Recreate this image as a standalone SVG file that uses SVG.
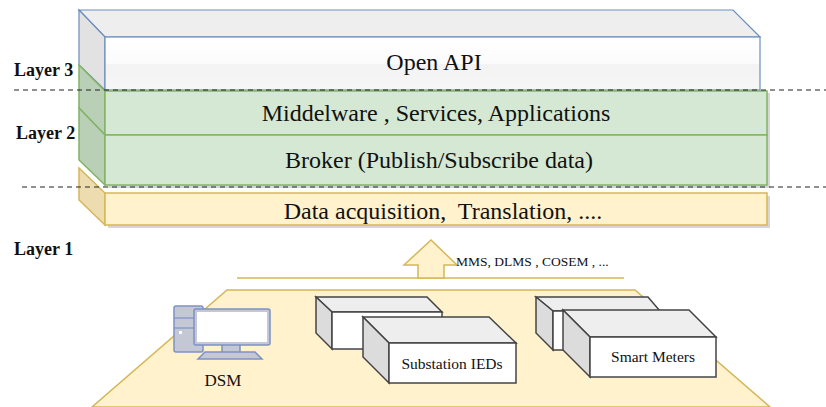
<svg xmlns="http://www.w3.org/2000/svg" width="826" height="407" viewBox="0 0 826 407">
<defs>
<linearGradient id="gApi" x1="0" y1="0" x2="0" y2="1">
<stop offset="0" stop-color="#ffffff"/>
<stop offset="0.5" stop-color="#fbfbfb"/>
<stop offset="0.52" stop-color="#f3f3f3"/>
<stop offset="1" stop-color="#f6f6f6"/>
</linearGradient>
</defs>
<style>
.t{font-family:"Liberation Serif","Times New Roman",serif;fill:#111;}
.lbl{font-family:"Liberation Serif","Times New Roman",serif;font-weight:bold;font-size:18px;fill:#111;}
.blue{stroke:#6c8ebf;stroke-width:1.2;}
.green{fill:#d5e8d4;stroke:#82b366;stroke-width:1.5;}
.gside{fill:#b9cfb6;stroke:#82b366;stroke-width:1.5;}
.yel{fill:#fff2cc;stroke:#d6b656;stroke-width:1.5;}
.yside{fill:#ecdcb0;stroke:#d6b656;stroke-width:1.5;}
.shadow{fill:#bbbbbb;opacity:0.6;}
.dash{stroke:#222;stroke-width:1.2;stroke-dasharray:5,4;fill:none;}
.box{stroke:#444;stroke-width:1.5;}
.pc{fill:#c4c8d4;stroke:#7d91c6;stroke-width:1.5;}
</style>

<!-- floor -->
<g id="floor">
<polygon points="227,290 635,290 770,407 92,407" class="yel"/>
</g>

<!-- Layer stack -->
<g id="open-api">
<polygon points="79,10 733,10 760,37 105,37" fill="#eeeeee" class="blue"/>
<polygon points="79,10 105,37 105,90 79,65" fill="#e2e2e2" class="blue"/>
<rect x="105" y="37" width="655" height="53" fill="url(#gApi)" class="blue"/>
<text x="434" y="70" class="t" font-size="24" text-anchor="middle">Open API</text>
</g>

<g id="middleware">
<rect x="108" y="93" width="662" height="45" class="shadow"/>
<polygon points="79,65 105,91 105,135 79,108" class="gside"/>
<rect x="105" y="91" width="662" height="44" class="green"/>
<text x="436" y="121" class="t" font-size="24" text-anchor="middle">Middelware , Services, Applications</text>
</g>

<g id="broker">
<rect x="108" y="138" width="662" height="50" class="shadow"/>
<polygon points="79,108 105,135 105,185 79,160" class="gside"/>
<rect x="105" y="135" width="662" height="50" class="green"/>
<text x="439" y="168" class="t" font-size="24" text-anchor="middle">Broker (Publish/Subscribe data)</text>
</g>

<g id="data-acq">
<rect x="108" y="196" width="662" height="32" class="shadow"/>
<polygon points="79,168 105,193 105,225 79,200" class="yside"/>
<rect x="105" y="193" width="662" height="32" class="yel"/>
<text x="443" y="219" class="t" font-size="24" text-anchor="middle" xml:space="preserve">Data acquisition,  Translation, ....</text>
</g>

<!-- layer labels -->
<g id="layers">
<text x="14" y="76" class="lbl">Layer 3</text>
<text x="16" y="139" class="lbl">Layer 2</text>
<text x="14" y="255" class="lbl">Layer 1</text>
</g>

<g id="connectors">
<line x1="14" y1="90" x2="826" y2="90" class="dash"/>
<line x1="22" y1="187" x2="826" y2="187" class="dash"/>
<line x1="237" y1="278" x2="624" y2="278" stroke="#d6b656" stroke-width="1.5"/>
<polygon points="431,240 457,265 444,265 444,278 418,278 418,265 404,265" class="yel"/>
<text x="456" y="266" class="t" font-size="13.5">MMS, DLMS , COSEM , ...</text>
</g>

<!-- DSM -->
<g id="dsm">
<rect x="174" y="306" width="29" height="46" rx="2" class="pc"/>
<line x1="174" y1="318" x2="203" y2="318" stroke="#7d91c6" stroke-width="1.2"/>
<line x1="174" y1="328" x2="203" y2="328" stroke="#7d91c6" stroke-width="1.2"/>
<rect x="179" y="331" width="3" height="3" fill="#ffffff"/>
<rect x="222" y="344" width="18" height="9" class="pc"/>
<rect x="194" y="309" width="76" height="36" rx="2" class="pc"/>
<rect x="197" y="312" width="70" height="30" fill="#ffffff"/>
<polygon points="205,352 255,352 262,359 198,359" class="pc"/>
<text x="223" y="386" class="t" font-size="17" text-anchor="middle">DSM</text>
</g>

<!-- Substation IEDs -->
<g id="substation-ieds">
<polygon points="316,297 427,297 442,312 332,312" fill="#eeeeee" class="box"/>
<polygon points="316,297 332,312 332,349 316,333" fill="#dcdcdc" class="box"/>
<rect x="332" y="312" width="110" height="37" fill="#ffffff" class="box"/>
<polygon points="363,317 489,317 516,343 389,343" fill="#eeeeee" class="box"/>
<polygon points="363,317 389,343 389,383 363,357" fill="#dcdcdc" class="box"/>
<rect x="389" y="343" width="127" height="40" fill="#ffffff" class="box"/>
<text x="452" y="369" class="t" font-size="15.5" text-anchor="middle">Substation IEDs</text>
</g>

<!-- Smart Meters -->
<g id="smart-meters">
<polygon points="536,297 648,297 660,311 553,311" fill="#eeeeee" class="box"/>
<polygon points="536,297 553,311 553,350 536,333" fill="#dcdcdc" class="box"/>
<rect x="553" y="311" width="107" height="39" fill="#ffffff" class="box"/>
<polygon points="563,310 689,310 716,337 590,337" fill="#eeeeee" class="box"/>
<polygon points="563,310 590,337 590,377 563,350" fill="#dcdcdc" class="box"/>
<rect x="590" y="337" width="126" height="40" fill="#ffffff" class="box"/>
<text x="653" y="362" class="t" font-size="15.5" text-anchor="middle">Smart Meters</text>
</g>
</svg>
